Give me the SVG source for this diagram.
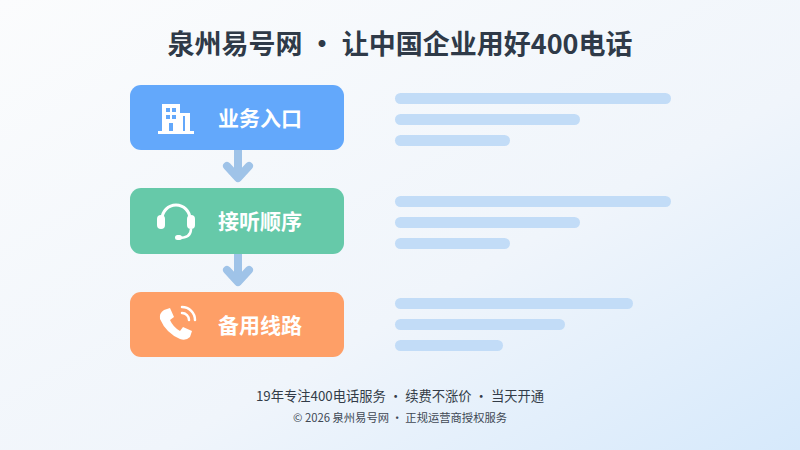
<svg xmlns="http://www.w3.org/2000/svg" width="800" height="450" viewBox="0 0 800 450">
<defs>
<linearGradient id="bg" x1="0" y1="0" x2="1" y2="1"><stop offset="0" stop-color="#fbfcfd"/><stop offset="0.6" stop-color="#f0f5fb"/><stop offset="1" stop-color="#d6e9fb"/></linearGradient>
<style>
text{font-family:"Noto Sans CJK SC","Noto Sans",sans-serif}
.lbl{fill:#fff;font-size:21px;font-weight:bold}
.bar{fill:#c2dcf7}
.ar{stroke:#9fc3e8;stroke-width:8;fill:none}
</style>
</defs>
<rect width="800" height="450" fill="url(#bg)"/>
<text x="400" y="54" text-anchor="middle" font-size="27" font-weight="bold" fill="#2f3a48">泉州易号网 · 让中国企业用好400电话</text>
<g id="connectors">
<line class="ar" x1="238" y1="150" x2="238" y2="176"/><path d="M227 166 L238 178 L249 166" class="ar" stroke-linecap="round" stroke-linejoin="round"/>
<line class="ar" x1="238" y1="254" x2="238" y2="280"/><path d="M227 270 L238 282 L249 270" class="ar" stroke-linecap="round" stroke-linejoin="round"/>
</g>
<g id="node1"><rect x="130" y="85" width="214" height="65" rx="11" fill="#63a8fb"/>
<g fill="#fff"><rect x="162" y="104" width="18" height="28"/><rect x="180" y="113" width="10" height="19"/><rect x="158" y="131" width="36" height="3"/></g>
<g fill="#63a8fb"><rect x="166" y="108" width="4" height="4"/><rect x="172" y="108" width="4" height="4"/><rect x="166" y="115" width="4" height="4"/><rect x="172" y="115" width="4" height="4"/><rect x="169" y="123" width="4" height="8"/><rect x="183" y="116" width="2" height="15"/></g>
<text class="lbl" x="218" y="126">业务入口</text></g>
<g id="node2"><rect x="130" y="188" width="214" height="66" rx="11" fill="#66c9a9"/>
<path d="M162 223 v-4 a14 14 0 0 1 28 0 v4" stroke="#fff" stroke-width="3" fill="none"/>
<rect x="157" y="215" width="8" height="14" rx="4" fill="#fff"/><rect x="187" y="215" width="8" height="14" rx="4" fill="#fff"/>
<path d="M191 229 q0 9 -12 9" stroke="#fff" stroke-width="2.5" fill="none"/><rect x="175" y="235" width="7" height="5" rx="2.5" fill="#fff"/>
<text class="lbl" x="218" y="229">接听顺序</text></g>
<g id="node3"><rect x="130" y="292" width="214" height="65" rx="11" fill="#fe9f67"/>
<path d="M164 310 l6 -2 l4 9 l-4 3 q3 7 10 11 l3 -4 l9 4 l-2 6 q-4 4 -10 2 q-14 -6 -20 -20 q-1 -6 4 -9z" fill="#fff"/>
<path d="M182 313 a7 7 0 0 1 7 7 M182 307 a13 13 0 0 1 13 13" stroke="#fff" stroke-width="2.5" fill="none" stroke-linecap="round"/>
<text class="lbl" x="218" y="333">备用线路</text></g>
<g id="bars">
<rect class="bar" x="395" y="93" width="276" height="11" rx="5.5"/><rect class="bar" x="395" y="114" width="185" height="11" rx="5.5"/><rect class="bar" x="395" y="135" width="115" height="11" rx="5.5"/>
<rect class="bar" x="395" y="196" width="276" height="11" rx="5.5"/><rect class="bar" x="395" y="217" width="185" height="11" rx="5.5"/><rect class="bar" x="395" y="238" width="115" height="11" rx="5.5"/>
<rect class="bar" x="395" y="298" width="238" height="11" rx="5.5"/><rect class="bar" x="395" y="319" width="170" height="11" rx="5.5"/><rect class="bar" x="395" y="340" width="108" height="11" rx="5.5"/>
</g>
<text x="400" y="401" text-anchor="middle" font-size="13.3" fill="#333c48">19年专注400电话服务 · 续费不涨价 · 当天开通</text>
<text x="400" y="422" text-anchor="middle" font-size="11.3" fill="#404854">© 2026 泉州易号网 · 正规运营商授权服务</text>
</svg>
